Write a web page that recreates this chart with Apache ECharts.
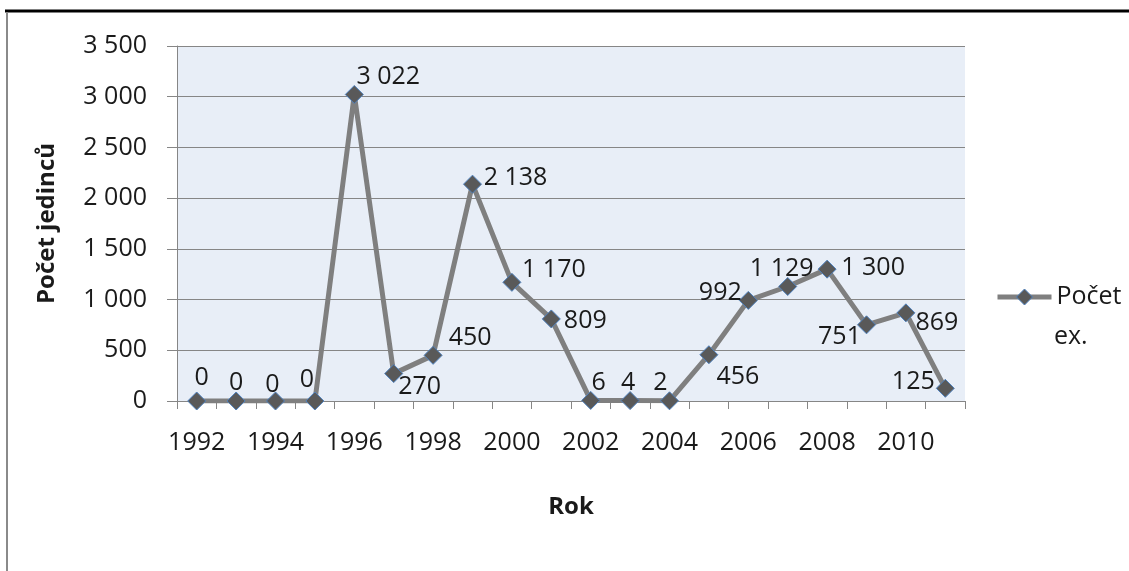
<!DOCTYPE html>
<html>
<head>
<meta charset="utf-8">
<script src="https://cdn.jsdelivr.net/npm/echarts@6/dist/echarts.min.js"></script>
<style>
html,body{margin:0;padding:0;background:#fff;}
#c{width:1129px;height:571px;}
</style>
</head>
<body>
<div id="c"></div>
<script>
var years = ['1992','1993','1994','1995','1996','1997','1998','1999','2000','2001','2002','2003','2004','2005','2006','2007','2008','2009','2010','2011'];
var counts = [0,0,0,0,3022,270,450,2138,1170,809,6,4,2,456,992,1129,1300,751,869,125];
var yTicks = {min:0, max:3500, interval:500};
var seriesName = 'Počet ex.';
var legendLine1 = 'Počet';
var legendLine2 = 'ex.';
var yName = 'Počet jedinců';
var xName = 'Rok';

// label placement (style only)
var labelOffsets = [[5,-23],[0,-18],[-3,-16],[-8,-21],[34,-18],[26,13],[37,-17],[43,-6],[42,-12],[34,2],[8,-18],[-2,-18],[-9,-18],[29,22],[-28,-8],[-6,-18],[46,-1],[-27,12],[31,10],[-32,-6]];

function fmt(v){
  return String(v).replace(/\B(?=(\d{3})+(?!\d))/g, ' ');
}

var font = '"Open Sans", sans-serif';
var txt = '#1a1a1a';

var data = counts.map(function(v,i){
  return {value:v, label:{offset:labelOffsets[i]}};
});

var chart = echarts.init(document.getElementById('c'), null, {renderer:'canvas'});
chart.setOption({
  animation:false,
  backgroundColor:'#ffffff',
  textStyle:{fontFamily:font},
  grid:{left:177, right:164, top:46, bottom:170, show:true, backgroundColor:'#e8eef7', borderWidth:0},
  legend:{
    data:[seriesName],
    left:995, top:282,
    padding:0,
    orient:'vertical',
    itemWidth:54, itemHeight:20, itemGap:0,
    itemStyle:{color:'#595959', borderColor:'#4f81bd', borderWidth:1},
    lineStyle:{color:'#7f7f7f', width:5},
    formatter:function(){ return legendLine1; },
    textStyle:{fontFamily:font, fontSize:25, color:txt, lineHeight:30}
  },
  xAxis:{
    type:'category',
    data:years,
    boundaryGap:true,
    name:xName,
    nameLocation:'middle',
    nameGap:94,
    nameTextStyle:{fontFamily:font, fontSize:24, fontWeight:'bold', color:txt},
    axisLine:{lineStyle:{color:'#868686', width:1}},
    axisTick:{show:true, interval:0, length:8, lineStyle:{color:'#868686'}},
    axisLabel:{interval:1, margin:29, fontFamily:font, fontSize:25, color:txt},
    splitLine:{show:false}
  },
  yAxis:{
    type:'value',
    min:yTicks.min, max:yTicks.max, interval:yTicks.interval,
    name:yName,
    nameLocation:'middle',
    nameGap:118,
    nameRotate:90,
    nameTextStyle:{fontFamily:font, fontSize:24, fontWeight:'bold', color:txt},
    axisLine:{show:true, lineStyle:{color:'#868686', width:1}},
    axisTick:{show:true, length:10, lineStyle:{color:'#868686'}},
    axisLabel:{margin:30, fontFamily:font, fontSize:25, color:txt, formatter:function(v){return fmt(v);}},
    splitLine:{show:true, lineStyle:{color:'#868686', width:1}}
  },
  series:[{
    name:seriesName,
    type:'line',
    data:data,
    symbol:'diamond',
    symbolSize:18,
    lineStyle:{color:'#7f7f7f', width:5},
    itemStyle:{color:'#595959', borderColor:'#4f81bd', borderWidth:1},
    label:{
      show:true,
      position:'inside',
      fontFamily:font, fontSize:25, color:txt,
      formatter:function(p){ return fmt(p.value); }
    },
    z:3
  }],
  graphic:[
    {type:'line', shape:{x1:5, y1:11, x2:1129, y2:11}, style:{stroke:'#000', lineWidth:3}, z:10},
    {type:'line', shape:{x1:7, y1:12, x2:7, y2:571}, style:{stroke:'#8a8a8a', lineWidth:2}, z:10},
    {type:'text', x:1054, y:337, style:{text:legendLine2, font:'25px "Open Sans", sans-serif', fill:txt, verticalAlign:'middle', align:'left'}}
  ]
});
</script>
</body>
</html>
